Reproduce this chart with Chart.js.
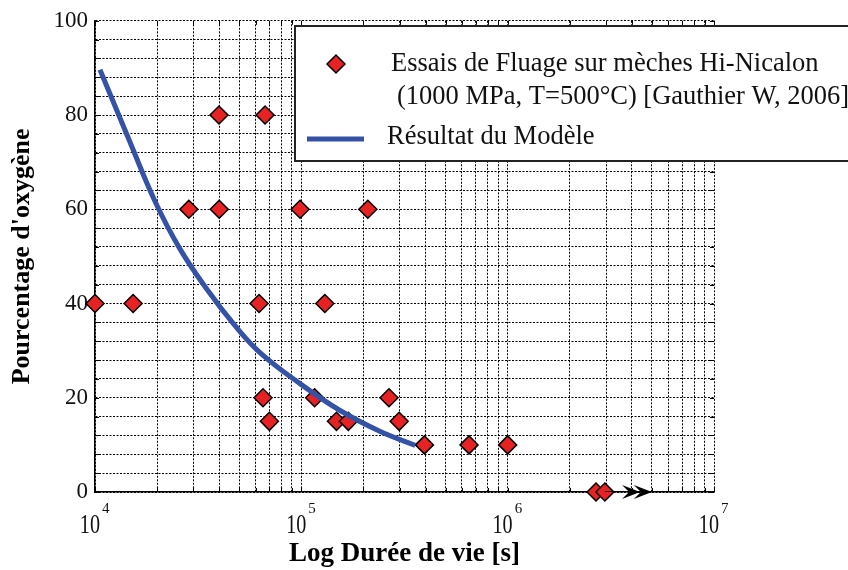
<!DOCTYPE html>
<html>
<head>
<meta charset="utf-8">
<script src="https://cdn.jsdelivr.net/npm/chart.js@4.4.1/dist/chart.umd.min.js"></script>
<style>
    html, body { margin: 0; padding: 0; background: #fff; }
</style>
</head>
<body>
<canvas id="chart" width="848" height="570"></canvas>
<script>
// creep tests on Hi-Nicalon tows (lifetime in s, oxygen %)
const essaiDuree = [1.0e4, 1.53e4, 2.85e4, 3.99e4, 4.0e4, 6.67e4, 6.24e4, 6.52e4, 7.0e4, 9.86e4, 1.30e5,
    1.16e5, 1.48e5, 1.69e5, 2.10e5, 2.66e5, 2.98e5, 3.95e5, 6.5e5, 1.0e6, 2.68e6, 2.96e6];
const essaiOxygene = [40, 40, 60, 80, 60, 80, 40, 20, 15, 60, 40, 20, 15, 15, 60, 20, 15, 10, 10, 10, 0, 0];

// model curve
const modeleDuree = [1.057e4, 1.445e4, 1.953e4, 2.58e4, 3.53e4, 4.77e4, 6.3e4, 9.85e4,
    1.54e5, 2.40e5, 3.56e5];
const modeleOxygene = [89.6, 75.3, 61.7, 51.6, 42.7, 35.3, 29.6, 23.0, 17.3, 12.9, 9.9];

// run-out (no failure) arrow
const runoutDuree = [2.96e6, 5.0e6];
const runoutOxygene = [0, 0];
const arrowTips = [4.38e6, 5.0e6];

const xDecades = [4, 5, 6, 7];
const yTickLabels = [0, 20, 40, 60, 80, 100];

const legendEssais = ["Essais de Fluage sur mèches Hi-Nicalon", "(1000 MPa, T=500°C) [Gauthier W, 2006]"];
const legendModele = "Résultat du Modèle";

const SERIF = "'Liberation Serif', 'Times New Roman', serif";
const RED = "#e62222";
const BLUE = "#3553a6";

const toPoints = (xs, ys) => xs.map((x, i) => ({ x: x, y: ys[i] }));

function drawDiamond(ctx, x, y, r) {
    ctx.beginPath();
    ctx.moveTo(x - r, y);
    ctx.lineTo(x, y - r);
    ctx.lineTo(x + r, y);
    ctx.lineTo(x, y + r);
    ctx.closePath();
    ctx.fillStyle = RED;
    ctx.fill();
    ctx.lineWidth = 1.5;
    ctx.strokeStyle = "#000";
    ctx.stroke();
}

const arrowPlugin = {
    id: "arrowPlugin",
    afterDatasetsDraw(chart) {
        const { ctx, scales } = chart;
        const py = scales.y.getPixelForValue(runoutOxygene[1]);
        ctx.save();
        ctx.fillStyle = "#000";
        arrowTips.forEach((v) => {
            const px = scales.x.getPixelForValue(v);
            ctx.beginPath();
            ctx.moveTo(px, py);
            ctx.lineTo(px - 18, py - 7);
            ctx.lineTo(px - 11, py);
            ctx.lineTo(px - 18, py + 7);
            ctx.closePath();
            ctx.fill();
        });
        ctx.restore();
    }
};

// small inward tick marks on the frame
const frameTicksPlugin = {
    id: "frameTicksPlugin",
    beforeDatasetsDraw(chart) {
        const { ctx, scales, chartArea } = chart;
        ctx.save();
        ctx.strokeStyle = "#000";
        ctx.lineWidth = 1;
        ctx.beginPath();
        scales.x.ticks.forEach((t) => {
            const px = Math.round(scales.x.getPixelForValue(t.value)) + 0.5;
            ctx.moveTo(px, chartArea.bottom);
            ctx.lineTo(px, chartArea.bottom - 4);
            ctx.moveTo(px, chartArea.top);
            ctx.lineTo(px, chartArea.top + 4);
        });
        scales.y.ticks.forEach((t) => {
            const py = Math.round(scales.y.getPixelForValue(t.value)) + 0.5;
            ctx.moveTo(chartArea.left, py);
            ctx.lineTo(chartArea.left + 4, py);
            ctx.moveTo(chartArea.right, py);
            ctx.lineTo(chartArea.right - 4, py);
        });
        ctx.stroke();
        ctx.restore();
    }
};

const xLabelPlugin = {
    id: "xLabelPlugin",
    afterDraw(chart) {
        const { ctx, scales } = chart;
        ctx.save();
        ctx.fillStyle = "#111";
        ctx.textBaseline = "alphabetic";
        xDecades.forEach((d) => {
            const px = scales.x.getPixelForValue(Math.pow(10, d));
            ctx.save();
            ctx.translate(px + 5, 533);
            ctx.scale(0.72, 1);
            ctx.font = "28px " + SERIF;
            ctx.textAlign = "right";
            ctx.fillText("10", 0, 0);
            ctx.restore();
            ctx.font = "15px " + SERIF;
            ctx.textAlign = "left";
            ctx.fillText(String(d), px + 7, 513);
        });
        ctx.restore();
    }
};

const legendPlugin = {
    id: "legendPlugin",
    afterDraw(chart) {
        const ctx = chart.ctx;
        ctx.save();
        ctx.fillStyle = "#fff";
        ctx.fillRect(295, 26, 560, 135);
        ctx.lineWidth = 2;
        ctx.strokeStyle = "#222";
        ctx.strokeRect(295, 26, 560, 135);

        drawDiamond(ctx, 336, 64, 9);
        ctx.beginPath();
        ctx.moveTo(307, 139);
        ctx.lineTo(364, 139);
        ctx.lineWidth = 5;
        ctx.strokeStyle = BLUE;
        ctx.stroke();

        ctx.fillStyle = "#111";
        ctx.font = "26.5px " + SERIF;
        ctx.textBaseline = "middle";
        ctx.textAlign = "left";
        ctx.fillText(legendEssais[0], 391, 64);
        ctx.fillText(legendEssais[1], 397, 97);
        ctx.fillText(legendModele, 387, 137);
        ctx.restore();
    }
};

new Chart(document.getElementById("chart"), {
    type: "scatter",
    data: {
        datasets: [
            {
                label: legendModele,
                data: toPoints(modeleDuree, modeleOxygene),
                showLine: true,
                borderColor: BLUE,
                borderWidth: 5,
                pointRadius: 0,
                tension: 0.4,
                order: 0
            },
            {
                label: "runout",
                data: toPoints(runoutDuree, runoutOxygene),
                showLine: true,
                borderColor: "#000",
                borderWidth: 2,
                pointRadius: 0,
                order: 1
            },
            {
                label: legendEssais.join(" "),
                data: toPoints(essaiDuree, essaiOxygene),
                pointStyle: "rectRot",
                pointRadius: 9,
                pointHoverRadius: 9,
                backgroundColor: RED,
                borderColor: "#000",
                borderWidth: 1.5,
                clip: false,
                order: 2
            }
        ]
    },
    options: {
        responsive: false,
        animation: false,
        layout: {
            padding: { left: 0, top: 19, right: 134, bottom: 0 }
        },
        plugins: {
            legend: { display: false },
            tooltip: { enabled: false }
        },
        scales: {
            x: {
                type: "logarithmic",
                min: Math.pow(10, xDecades[0]),
                max: Math.pow(10, xDecades[xDecades.length - 1]),
                afterBuildTicks: (scale) => {
                    const ticks = [];
                    xDecades.slice(0, -1).forEach((d) => {
                        for (let m = 1; m <= 9; m++) {
                            ticks.push({ value: m * Math.pow(10, d), major: m === 1 });
                        }
                    });
                    ticks.push({ value: Math.pow(10, xDecades[xDecades.length - 1]), major: true });
                    scale.ticks = ticks;
                },
                afterFit: (scale) => {
                    scale.height = 78;
                },
                ticks: { display: false },
                grid: {
                    color: "#000",
                    lineWidth: 1,
                    drawTicks: false
                },
                border: { color: "#000", width: 1.5, dash: [2, 1.5] },
                title: {
                    display: true,
                    text: "Log Durée de vie [s]",
                    color: "#000",
                    font: { family: SERIF, size: 27, weight: "bold" },
                    padding: { top: 0, bottom: 0 }
                }
            },
            y: {
                min: 0,
                max: 100,
                afterFit: (scale) => {
                    scale.width = 95;
                },
                ticks: {
                    stepSize: 4,
                    autoSkip: false,
                    padding: 7,
                    color: "#111",
                    font: { family: SERIF, size: 23 },
                    callback: (value) => (yTickLabels.includes(value) ? String(value) : "")
                },
                grid: {
                    color: "#000",
                    lineWidth: 1,
                    drawTicks: false
                },
                border: { color: "#000", width: 1.5, dash: [2, 1.5] },
                title: {
                    display: true,
                    text: "Pourcentage d'oxygène",
                    color: "#000",
                    font: { family: SERIF, size: 26, weight: "bold" },
                    padding: { top: 7, bottom: 0 }
                }
            }
        }
    },
    plugins: [frameTicksPlugin, arrowPlugin, xLabelPlugin, legendPlugin]
});
</script>
</body>
</html>
